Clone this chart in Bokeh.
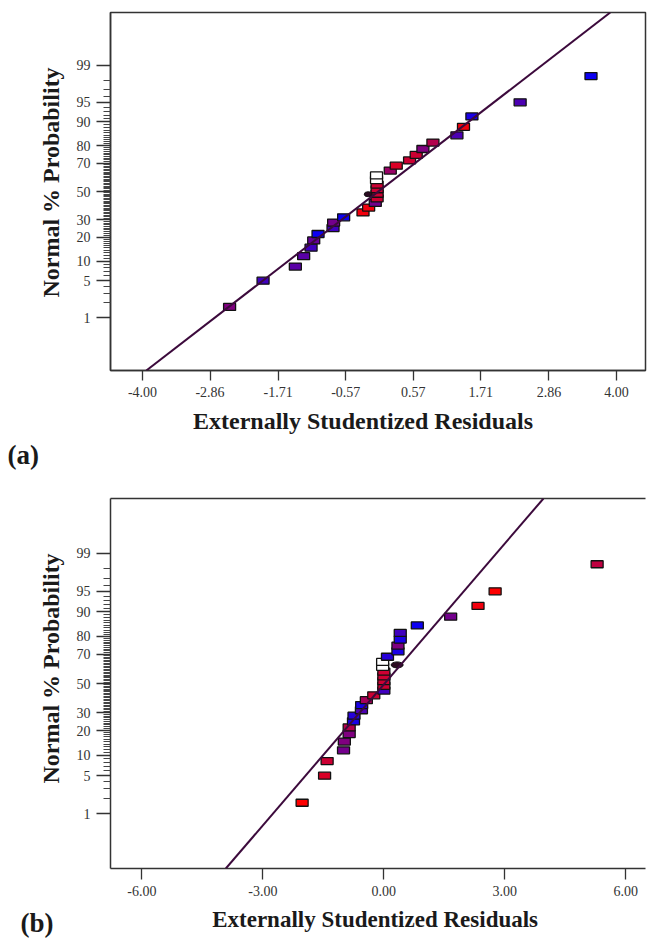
from statistics import NormalDist
from bokeh.plotting import figure
from bokeh.models import (ColumnDataSource, FixedTicker, NumeralTickFormatter,
                          CustomJSTickFormatter, Slope, Label, Range1d, LinearAxis)
from bokeh.layouts import column
from bokeh.embed import file_html
from bokeh.resources import INLINE

# ---------------- data ----------------
# panel (a)
res_a = [-2.53, -1.965, -1.42, -1.28, -1.155, -1.11, -1.037, -0.784, -0.774, -0.605,
         -0.278, -0.183, -0.071, -0.04, -0.04, -0.04, -0.04, -0.05, -0.05, 0.182,
         0.283, 0.508, 0.62, 0.733, 0.902, 1.307, 1.418, 1.56, 2.374, 3.57]
pct_a = [1.67, 5.0, 8.33, 11.67, 15.0, 18.33, 21.67, 25.0, 28.33, 31.67,
         35.0, 38.33, 41.67, 45.0, 48.33, 51.67, 55.0, 58.33, 61.67, 65.0,
         68.33, 71.67, 75.0, 78.33, 81.67, 85.0, 88.33, 91.67, 95.0, 98.33]
lvl_a = [0.5, 0.25, 0.35, 0.35, 0.25, 0.4, 0.05, 0.25, 0.45, 0.05,
         0.95, 0.95, 0.45, 0.8, 0.8, 0.8, 0.8, 0.0, 0.0, 0.6,
         0.85, 0.8, 0.8, 0.5, 0.7, 0.3, 0.95, 0.1, 0.3, 0.05]
open_a = [False] * 17 + [True, True] + [False] * 11
mark_a = (-0.19, 48.0)           # highlighted point
line_a = [(-2.78, 1.0), (2.74, 99.0)]  # fitted line through (residual, %)
xticks_a = [-4.00, -2.86, -1.71, -0.57, 0.57, 1.71, 2.86, 4.00]

# panel (b)
res_b = [-2.027, -1.47, -1.407, -1.0, -0.98, -0.86, -0.86, -0.753, -0.74, -0.556,
         -0.55, -0.434, -0.25, 0.0, 0.0, 0.0, 0.0, 0.0, -0.03, -0.03,
         0.09, 0.35, 0.35, 0.407, 0.407, 0.83, 1.657, 2.336, 2.76, 5.29]
pct_b = [1.67, 5.0, 8.33, 11.67, 15.0, 18.33, 21.67, 25.0, 28.33, 31.67,
         35.0, 38.33, 41.67, 45.0, 48.33, 51.67, 55.0, 58.33, 61.67, 65.0,
         68.33, 71.67, 75.0, 78.33, 81.67, 85.0, 88.33, 91.67, 95.0, 98.33]
lvl_b = [1.0, 0.85, 0.8, 0.45, 0.5, 0.5, 0.7, 0.1, 0.15, 0.3,
         0.1, 0.65, 0.8, 0.25, 0.8, 0.8, 0.8, 0.8, 0.0, 0.0,
         0.15, 0.1, 0.5, 0.1, 0.25, 0.05, 0.45, 0.95, 1.0, 0.75]
open_b = [False] * 18 + [True, True] + [False] * 10
mark_b = (0.33, 63.0)
line_b = [(-2.757, 1.0), (2.797, 99.0)]
xticks_b = [-6.00, -3.00, 0.00, 3.00, 6.00]

prob_major = [1, 5, 10, 20, 30, 50, 70, 80, 90, 95, 99]
prob_minor = list(range(2, 99))

Y_TITLE = "Normal % Probability"
X_TITLE = "Externally Studentized Residuals"

# ---------------- helpers ----------------
ND = NormalDist()
def z(p):
    return ND.inv_cdf(p / 100.0)

def col(level, is_open):
    if is_open:
        return "#ffffff"
    r = int(round(255 * level))
    b = int(round(255 * (1 - level)))
    return "#%02x%02x%02x" % (r, 0, b)

SERIF = "Liberation Serif"
NB = "\u00a0"
zmaj = [z(p) for p in prob_major]
zmin = [z(p) for p in prob_minor if p not in prob_major]

def make_panel(res, pct, lvl, opn, mark, mark_size, line, xticks, xr, height,
               bl, br, bt, bb, tick_len, ypad, xpad, xfs, full_box):
    p = figure(width=648, height=height, output_backend="svg", toolbar_location=None,
               x_range=Range1d(*xr), y_range=Range1d(-3.3, 3.3),
               min_border_left=bl, min_border_right=br, min_border_top=bt,
               min_border_bottom=bb)
    p.xgrid.visible = False
    p.ygrid.visible = False
    p.background_fill_color = "white"
    p.border_fill_color = "white"

    # fitted line
    (x1, p1), (x2, p2) = line
    z1, z2 = z(p1), z(p2)
    grad = (z2 - z1) / (x2 - x1)
    p.add_layout(Slope(gradient=grad, y_intercept=z1 - grad * x1,
                       line_color="#3c0a3c", line_width=2))

    src = ColumnDataSource(dict(x=res, y=[z(v) for v in pct],
                                c=[col(l, o) for l, o in zip(lvl, opn)]))
    p.rect(x="x", y="y", width=12, height=7, width_units="screen",
           height_units="screen", fill_color="c", line_color="#111111",
           line_width=1.3, source=src)
    p.ellipse(x=[mark[0]], y=[z(mark[1])], width=mark_size[0], height=mark_size[1],
              width_units="screen", height_units="screen",
              fill_color="#2a0a20", line_color="#111111")

    # x axis
    xa = p.below[0]
    xa.ticker = FixedTicker(ticks=xticks)
    xa.formatter = NumeralTickFormatter(format="0.00")
    xa.major_tick_out = tick_len
    xa.major_tick_in = 0
    xa.minor_tick_out = 0
    xa.minor_tick_in = 0
    xa.axis_line_color = "#333333"
    xa.axis_line_width = 1.5
    xa.major_tick_line_color = "#333333"
    xa.major_tick_line_width = 1.3
    xa.major_label_text_font = SERIF
    xa.major_label_text_font_size = "14px"
    xa.major_label_text_color = "#333333"
    xa.major_label_standoff = 6
    xa.axis_label = X_TITLE + NB * xpad
    xa.axis_label_text_font = SERIF
    xa.axis_label_text_font_style = "bold"
    xa.axis_label_text_font_size = xfs
    xa.axis_label_text_color = "#1a1a1a"
    xa.axis_label_standoff = 8

    # y axis (probit scale)
    ya = p.left[0]
    ya.ticker = FixedTicker(ticks=zmaj, minor_ticks=zmin)
    ya.formatter = CustomJSTickFormatter(
        args=dict(keys=zmaj, labels=[str(v) for v in prob_major]),
        code="""
        for (let i = 0; i < keys.length; i++) {
            if (Math.abs(tick - keys[i]) < 1e-6) { return labels[i]; }
        }
        return "";
        """)
    ya.major_tick_out = 14
    ya.major_tick_in = 0
    ya.minor_tick_out = 7
    ya.minor_tick_in = 0
    ya.axis_line_color = "#333333"
    ya.axis_line_width = 1.5
    ya.major_tick_line_color = "#333333"
    ya.major_tick_line_width = 1.3
    ya.minor_tick_line_color = "#444444"
    ya.minor_tick_line_width = 1
    ya.major_label_text_font = SERIF
    ya.major_label_text_font_size = "14px"
    ya.major_label_text_color = "#333333"
    ya.major_label_standoff = 6
    ya.axis_label = NB * ypad + Y_TITLE
    ya.axis_label_text_font = SERIF
    ya.axis_label_text_font_style = "bold"
    ya.axis_label_text_font_size = "24px"
    ya.axis_label_text_color = "#1a1a1a"
    ya.axis_label_standoff = 10

    if full_box:
        p.outline_line_color = "#333333"
        p.outline_line_width = 1.5
    else:
        # top border only (the right edge is cut off in the original)
        p.outline_line_color = None
        top = LinearAxis(ticker=FixedTicker(ticks=[]), major_tick_out=0,
                         major_tick_in=0, minor_tick_out=0, minor_tick_in=0,
                         major_label_text_font_size="0px", axis_label=None,
                         axis_line_color="#333333", axis_line_width=1.5)
        p.add_layout(top, "above")
    return p

def tag_label(text, x, y):
    return Label(x=x, y=y, x_units="screen", y_units="screen",
                 text=text, text_font=SERIF, text_font_style="bold",
                 text_font_size="27px", text_color="#1a1a1a",
                 text_baseline="middle", text_align="left")

pa = make_panel(res_a, pct_a, lvl_a, open_a, mark_a, (8, 5), line_a, xticks_a,
                (-4.54, 4.49), 475, 110, 3, 12, 105, 10, 3, 5, "24px", True)
pa.add_layout(tag_label("(a)", -103, 12), "below")

pb = make_panel(res_b, pct_b, lvl_b, open_b, mark_b, (12, 6), line_b, xticks_b,
                (-6.78, 6.49), 469, 107, 0, 23, 76, 11, 5, 1, "23px", False)
pb.add_layout(tag_label("(b)", 19, -54), "left")

layout = column(pa, pb, spacing=0)
open("out.html", "w").write(file_html(layout, INLINE))
